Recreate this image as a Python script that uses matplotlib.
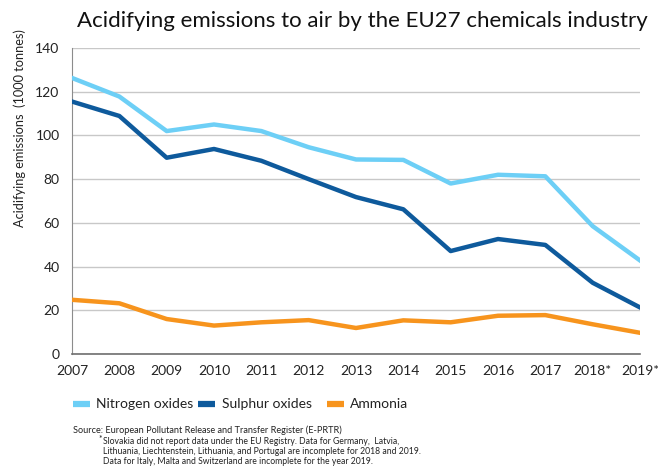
import matplotlib
matplotlib.use("Agg")
import matplotlib.pyplot as plt
from matplotlib.lines import Line2D

plt.rcParams['font.family'] = ['Lato', 'DejaVu Sans']

years = ["2007", "2008", "2009", "2010", "2011", "2012", "2013", "2014",
         "2015", "2016", "2017", "2018*", "2019*"]
nitrogen_oxides = [126.3, 117.8, 102.0, 105.0, 102.0, 94.6, 89.0, 88.8,
                   78.0, 82.0, 81.3, 58.5, 42.8]
sulphur_oxides = [115.5, 108.9, 89.8, 93.8, 88.4, 80.0, 71.8, 66.2,
                  47.1, 52.6, 49.9, 32.6, 21.3]
ammonia = [24.8, 23.2, 16.0, 13.0, 14.5, 15.5, 11.9, 15.4,
           14.5, 17.5, 17.8, 13.6, 9.7]
series_names = ["Nitrogen oxides", "Sulphur oxides", "Ammonia"]
colors = ["#6DCFF6", "#0E5A9C", "#F7941D"]

W, H = 658, 466
fig = plt.figure(figsize=(W/100, H/100), dpi=100)
ax = fig.add_axes([72/W, 1-354/H, (640-72)/W, (354-48)/H])

x = list(range(len(years)))
for vals, c in zip([nitrogen_oxides, sulphur_oxides, ammonia], colors):
    ax.plot(x, vals, color=c, lw=3.2, solid_joinstyle='round', zorder=3)

ax.set_xlim(0, len(years) - 1)
ax.set_ylim(0, 140)
ax.set_yticks(range(0, 141, 20))
ax.set_xticks(x)
ax.set_xticklabels(years)
ax.yaxis.grid(True, color="#C8C8C8", lw=1.0)
ax.set_axisbelow(True)
for s in ["top", "right"]:
    ax.spines[s].set_visible(False)
ax.spines["left"].set_color("#8C8C8C")
ax.spines["bottom"].set_color("#6E6E6E")
ax.spines["bottom"].set_linewidth(1.2)
ax.tick_params(axis='both', length=0, labelsize=10, colors="#222222")
ax.tick_params(axis='x', pad=8)
ax.tick_params(axis='y', pad=9)

fig.text(20/W, 1-128/H, "Acidifying emissions  (1000 tonnes)", rotation=90,
         ha='center', va='center', fontsize=9.2, color="#222222")

fig.text(362/W, 1-21/H, "Acidifying emissions to air by the EU27 chemicals industry",
         ha='center', va='center', fontsize=16, color="#111111")

# legend
leg_patch_x = [73, 198, 327]
leg_text_x = [96, 222, 350]
leg_y = 1 - 404/H
for px, tx, c, name in zip(leg_patch_x, leg_text_x, colors, series_names):
    fig.add_artist(Line2D([px/W, (px+17)/W], [leg_y, leg_y], color=c, lw=4.5,
                          transform=fig.transFigure, solid_capstyle='butt'))
    fig.text(tx/W, leg_y, name, fontsize=10, va='center', ha='left', color="#222222")

fs = 6.2
fig.text(73/W, 1-430/H, "Source: European Pollutant Release and Transfer Register (E-PRTR)",
         fontsize=6.6, va='center', color="#222222")
fig.text(98/W, 1-439/H, "*", fontsize=fs, va='center', color="#222222")
fig.text(103/W, 1-442/H, "Slovakia did not report data under the EU Registry. Data for Germany,  Latvia,",
         fontsize=fs, va='center', color="#222222")
fig.text(103/W, 1-452/H, "Lithuania, Liechtenstein, Lithuania, and Portugal are incomplete for 2018 and 2019.",
         fontsize=fs, va='center', color="#222222")
fig.text(103/W, 1-462/H, "Data for Italy, Malta and Switzerland are incomplete for the year 2019.",
         fontsize=fs, va='center', color="#222222")

fig.savefig("out.png", dpi=100)
